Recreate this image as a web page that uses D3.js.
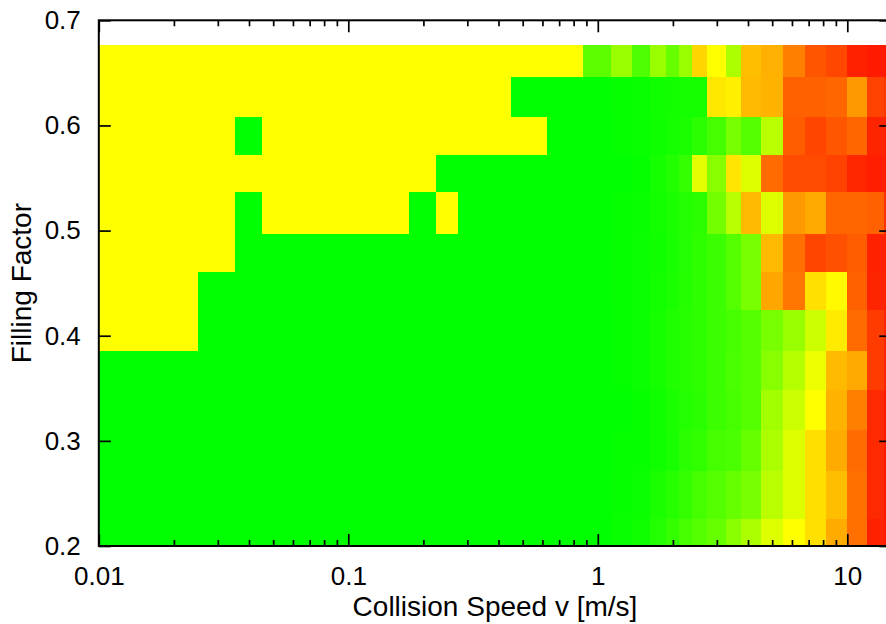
<!DOCTYPE html>
<html>
<head>
<meta charset="utf-8">
<script src="https://cdn.jsdelivr.net/npm/d3@7"></script>
<style>
  body { margin: 0; background: #fff; }
  text { font-family: "Liberation Sans", Arial, Helvetica, sans-serif; fill: #000; }
</style>
</head>
<body>
<svg id="chart" width="886" height="624"></svg>
<script>
// Collision speeds [m/s] at which the runs were made (cell centres)
const speeds = [0.01, 0.02, 0.03, 0.04, 0.05, 0.06, 0.07, 0.08, 0.09, 0.1,
                0.15, 0.2, 0.25, 0.3, 0.4, 0.5, 0.75,
                1.0, 1.25, 1.5, 1.75, 2.0, 2.25, 2.5, 3.0, 3.5, 4.0,
                5, 6, 7.5, 9, 11, 13, 15];

// Filling-factor band edges, bottom to top
const fillEdges = [0.2, 0.2254, 0.2716, 0.3103, 0.3483, 0.3854, 0.4243,
                   0.4609, 0.4971, 0.5365, 0.5722, 0.6078, 0.6461, 0.6769];

// Outcome per band (bottom to top): 0 = bouncing (green), 1 = sticking (yellow), 2 = fragmentation (red)
const band01 = [0,0,0,0,0,0,0,0,0,0,0,0,0,0,0,0,0, 0,0.03,0.06,0.13,0.2,0.27,0.33,0.4,0.53,0.67,0.87,1.0,1.12,1.33,1.56,1.87,1.9];
const band02 = [0,0,0,0,0,0,0,0,0,0,0,0,0,0,0,0,0, 0,0.02,0.04,0.1,0.15,0.2,0.27,0.33,0.4,0.47,0.73,0.87,1.13,1.25,1.56,1.84,1.9];
const band03 = [0,0,0,0,0,0,0,0,0,0,0,0,0,0,0,0,0, 0,0.01,0.02,0.06,0.09,0.16,0.19,0.27,0.29,0.4,0.67,0.87,1.13,1.33,1.58,1.84,1.9];
const band04 = [0,0,0,0,0,0,0,0,0,0,0,0,0,0,0,0,0, 0,0,0.02,0.06,0.1,0.13,0.16,0.23,0.27,0.33,0.63,0.8,1.0,1.3,1.5,1.84,1.9];
const band05 = [0,0,0,0,0,0,0,0,0,0,0,0,0,0,0,0,0, 0,0.01,0.04,0.08,0.12,0.15,0.18,0.23,0.29,0.33,0.53,0.71,0.93,1.27,1.34,1.77,1.85];
const band06 = [1,1,0,0,0,0,0,0,0,0,0,0,0,0,0,0,0, 0,0.01,0.04,0.08,0.12,0.15,0.18,0.23,0.27,0.33,0.47,0.6,0.8,1.08,1.58,1.77,1.85];
const band07 = [1,1,0,0,0,0,0,0,0,0,0,0,0,0,0,0,0, 0,0.02,0.04,0.07,0.1,0.14,0.18,0.23,0.33,0.47,1.35,1.54,1.12,1.02,1.62,1.86,1.86];
const band08 = [1,1,1,0,0,0,0,0,0,0,0,0,0,0,0,0,0, 0,0.02,0.04,0.06,0.09,0.13,0.18,0.23,0.33,0.47,1.27,1.56,1.73,1.69,1.64,1.87,1.87];
const band09 = [1,1,1,0,1,1,1,1,1,1,1,0,1,0,0,0,0, 0,0.01,0.03,0.07,0.1,0.13,0.16,0.45,0.72,1.27,0.87,1.4,1.34,1.6,1.6,1.62,1.8];
const band10 = [1,1,1,1,1,1,1,1,1,1,1,1,0,0,0,0,0, 0,0,0.01,0.08,0.13,0.2,0.9,0.53,1.1,0.87,1.58,1.71,1.71,1.74,1.85,1.88,1.88];
const band11 = [1,1,1,0,1,1,1,1,1,1,1,1,1,1,1,1,0, 0,0.01,0.03,0.05,0.08,0.1,0.16,0.27,0.47,0.33,0.73,1.64,1.73,1.66,1.6,1.86,1.87];
const band12 = [1,1,1,1,1,1,1,1,1,1,1,1,1,1,1,0,0, 0,0.02,0.03,0.06,0.07,0.08,0.08,1.09,1.06,1.27,1.3,1.62,1.62,1.6,1.4,1.74,1.78];
const band13 = [1,1,1,1,1,1,1,1,1,1,1,1,1,1,1,1,1, 0.36,0.6,0.3,0.6,0.4,0.6,1.16,1.0,0.67,1.25,1.31,1.5,1.67,1.72,1.87,1.9,1.9];
const bands = [band01, band02, band03, band04, band05, band06, band07,
               band08, band09, band10, band11, band12, band13];

// Axis ticks
const xTicks = [0.01, 0.1, 1, 10];
const xTickLabels = ["0.01", "0.1", "1", "10"];
const yTicks = [0.2, 0.3, 0.4, 0.5, 0.6, 0.7];
const yTickLabels = ["0.2", "0.3", "0.4", "0.5", "0.6", "0.7"];
const xTitle = "Collision Speed v [m/s]";
const yTitle = "Filling Factor";

const svg = d3.select("#chart");
const plotLeft = 98.8, plotTop = 20.3, plotBottom = 546, decadePx = 249.5;
const xDomain = [0.01, 15];

const x = d3.scaleLog()
  .domain(xDomain)
  .range([plotLeft, plotLeft + decadePx * Math.log10(xDomain[1] / xDomain[0])]);
const y = d3.scaleLinear().domain([0.2, 0.7]).range([plotBottom, plotTop]);
const color = d3.scaleLinear()
  .domain([0, 1, 2])
  .range(["#00ff00", "#ffff00", "#ff0000"])
  .interpolate(d3.interpolateRgb);

// Cell borders along speed: half-way between neighbouring runs, clipped to the axis range
const speedEdges = speeds.map((s, i) => i === 0 ? xDomain[0] : (speeds[i - 1] + s) / 2)
  .concat([xDomain[1]]);

const cells = [];
bands.forEach((row, r) => {
  row.forEach((v, c) => {
    cells.push({ x0: speedEdges[c], x1: speedEdges[c + 1], y0: fillEdges[r], y1: fillEdges[r + 1], v });
  });
});

svg.append("g")
  .attr("shape-rendering", "crispEdges")
  .selectAll("rect")
  .data(cells)
  .join("rect")
  .attr("x", d => x(d.x0))
  .attr("y", d => y(d.y1))
  .attr("width", d => x(d.x1) - x(d.x0))
  .attr("height", d => y(d.y0) - y(d.y1))
  .attr("fill", d => color(d.v));

// Minor ticks on the log axis
const minorTicks = [];
[0.01, 0.1, 1, 10].forEach(dec => {
  for (let k = 2; k <= 9; k++) {
    const v = +(dec * k).toPrecision(3);
    if (v < xDomain[1]) minorTicks.push(v);
  }
});

function styleAxis(g) {
  g.select(".domain").remove();
  g.selectAll(".tick line").attr("stroke", "#000").attr("stroke-width", 1.7);
  g.selectAll(".tick text").attr("font-size", 26).attr("fill", "#000");
}

const xRight = x(xDomain[1]);

svg.append("g")
  .attr("transform", `translate(0,${plotBottom})`)
  .call(d3.axisBottom(x).tickValues(xTicks).tickFormat((d, i) => xTickLabels[i])
    .tickSizeInner(-12).tickSizeOuter(0).tickPadding(21))
  .call(styleAxis);
svg.append("g")
  .attr("transform", `translate(0,${plotBottom})`)
  .call(d3.axisBottom(x).tickValues(minorTicks).tickFormat("").tickSizeInner(-6).tickSizeOuter(0))
  .call(styleAxis);
svg.append("g")
  .attr("transform", `translate(0,${plotTop})`)
  .call(d3.axisTop(x).tickValues(xTicks).tickFormat("").tickSizeInner(-12).tickSizeOuter(0))
  .call(styleAxis);
svg.append("g")
  .attr("transform", `translate(0,${plotTop})`)
  .call(d3.axisTop(x).tickValues(minorTicks).tickFormat("").tickSizeInner(-6).tickSizeOuter(0))
  .call(styleAxis);
svg.append("g")
  .attr("transform", `translate(${plotLeft},0)`)
  .call(d3.axisLeft(y).tickValues(yTicks).tickFormat((d, i) => yTickLabels[i])
    .tickSizeInner(-12).tickSizeOuter(0).tickPadding(18))
  .call(styleAxis);
svg.append("g")
  .attr("transform", `translate(${xRight},0)`)
  .call(d3.axisRight(y).tickValues(yTicks).tickFormat("").tickSizeInner(-12).tickSizeOuter(0))
  .call(styleAxis);

// Frame
svg.append("rect")
  .attr("x", plotLeft).attr("y", plotTop)
  .attr("width", xRight - plotLeft).attr("height", plotBottom - plotTop)
  .attr("fill", "none").attr("stroke", "#000").attr("stroke-width", 2);

// Axis titles
svg.append("text")
  .attr("x", (plotLeft + xRight) / 2).attr("y", 616)
  .attr("text-anchor", "middle").attr("font-size", 28)
  .text(xTitle);
svg.append("text")
  .attr("transform", `translate(31,${(plotTop + plotBottom) / 2}) rotate(-90)`)
  .attr("text-anchor", "middle").attr("font-size", 28)
  .text(yTitle);
</script>
</body>
</html>
